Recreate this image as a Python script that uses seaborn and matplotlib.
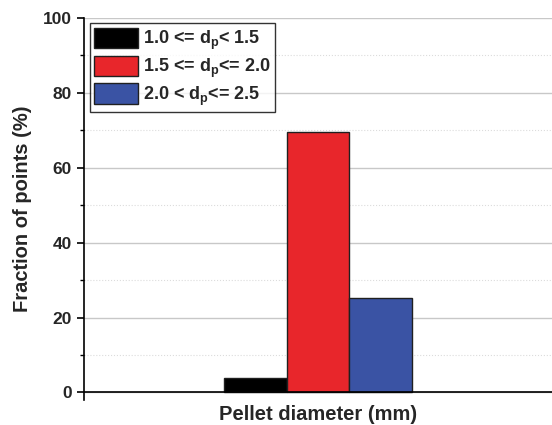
import pandas as pd
import matplotlib.pyplot as plt
import seaborn as sns
from matplotlib.ticker import MultipleLocator

# Dados
grupo = ["Pellet", "Pellet", "Pellet"]
faixas = ["1.0 <= d$_p$< 1.5", "1.5 <= d$_p$<= 2.0", "2.0 < d$_p$<= 2.5"]
fracao = [3.8, 69.5, 25.2]
cores = ["#000000", "#e8262b", "#3a53a4"]

df = pd.DataFrame({"grupo": grupo, "faixa": faixas, "fracao": fracao})

sns.set_style("white")
plt.rcParams["font.family"] = ["Liberation Sans", "DejaVu Sans"]
plt.rcParams["font.weight"] = "bold"
plt.rcParams["mathtext.fontset"] = "custom"
plt.rcParams["mathtext.rm"] = "Liberation Sans:bold"
plt.rcParams["mathtext.it"] = "Liberation Sans:bold"
plt.rcParams["mathtext.bf"] = "Liberation Sans:bold"

fig = plt.figure(figsize=(5.52, 4.25), dpi=100)
ax = fig.add_axes([0.152, 0.059, 0.848, 0.899])

sns.barplot(data=df, x="grupo", y="fracao", hue="faixa", palette=cores,
            saturation=1, edgecolor="#202020", linewidth=1.0, width=0.8, ax=ax)

ax.set_xlim(-1.0, 1.0)
ax.set_ylim(-2, 100)
ax.set_xticks([])
ax.yaxis.set_major_locator(MultipleLocator(20))
ax.yaxis.set_minor_locator(MultipleLocator(10))
ax.tick_params(axis="y", which="major", direction="out", length=5, width=1.2,
               labelsize=12.5, left=True, color="black")
ax.tick_params(axis="y", which="minor", direction="out", length=3, width=1.0,
               left=True, color="black")
for lbl in ax.get_yticklabels():
    lbl.set_fontweight("bold")

# grade horizontal
ax.grid(axis="y", which="major", color="#c8c8c8", linewidth=1.0, linestyle="-")
ax.grid(axis="y", which="minor", color="#dcdcdc", linewidth=0.8, linestyle=":")
ax.set_axisbelow(True)

for s in ["top", "right", "bottom"]:
    ax.spines[s].set_visible(False)
ax.spines["left"].set_color("black")
ax.spines["left"].set_linewidth(1.2)
ax.axhline(0, color="black", linewidth=1.2, zorder=5)

ax.set_xlabel("Pellet diameter (mm)", fontsize=14.5, fontweight="bold", labelpad=4)
ax.set_ylabel("Fraction of points (%)", fontsize=14.5, fontweight="bold", labelpad=8)

leg = ax.legend(loc="upper left", bbox_to_anchor=(0.005, 0.995), frameon=True,
                fancybox=False, edgecolor="black", fontsize=13,
                handlelength=2.4, handleheight=1.35, labelspacing=0.2,
                handletextpad=0.3, borderpad=0.25, borderaxespad=0.2)
leg.get_frame().set_linewidth(1.0)
for t in leg.get_texts():
    t.set_fontweight("bold")

fig.savefig("out.png", dpi=100)
